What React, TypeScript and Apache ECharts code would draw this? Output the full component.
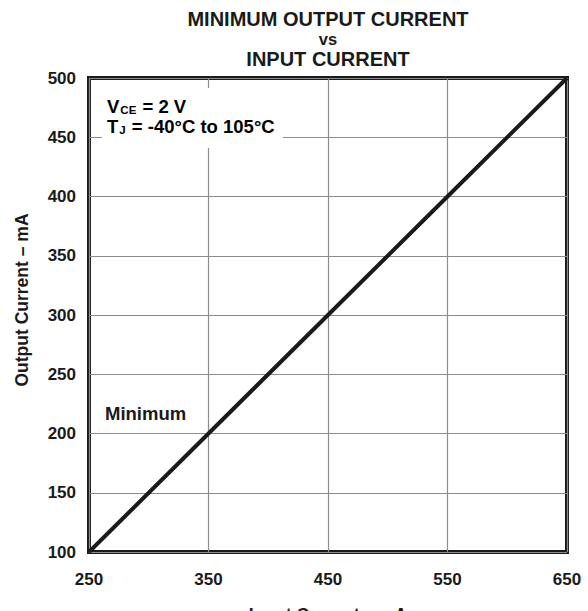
import React, { useEffect, useRef } from "react";
import * as echarts from "echarts";

const inputCurrent = [250, 350, 450, 550, 650];
const outputCurrent = [100, 200, 300, 400, 500];
const xTicks = { min: 250, max: 650, interval: 100 };
const yTicks = { min: 100, max: 500, interval: 50 };
const titleLines = ["MINIMUM OUTPUT CURRENT", "vs", "INPUT CURRENT"];
const conditionLine1 = ["V", "CE", " = 2 V"];
const conditionLine2 = ["T", "J", " = -40°C to 105°C"];
const curveLabel = "Minimum";

const FONT = "Liberation Sans, Arial, Helvetica, sans-serif";
const INK = "#1a1a1a";

export default function App() {
  const ref = useRef<HTMLDivElement>(null);
  useEffect(() => {
    document.body.style.margin = "0";
    if (!ref.current) return;
    const chart = echarts.init(ref.current, null, { renderer: "svg" });
    const rich = {
      m: { fontSize: 18.5, fontWeight: "bold", fontFamily: FONT, color: INK, lineHeight: 20, verticalAlign: "bottom" },
      s: { fontSize: 11.5, fontWeight: "bold", fontFamily: FONT, color: INK, lineHeight: 20, verticalAlign: "bottom", padding: [0, 1, 0, 1] },
    };
    const titleStyle = (size: number) => ({
      fontSize: size,
      lineHeight: size,
      fontWeight: "bold",
      fontFamily: FONT,
      color: INK,
    });
    chart.setOption({
      animation: false,
      backgroundColor: "#fff",
      title: [
        { text: titleLines[0], left: 328, top: 9, textAlign: "center", padding: 0, textStyle: titleStyle(20) },
        { text: titleLines[1], left: 328, top: 30.5, textAlign: "center", padding: 0, textStyle: titleStyle(16.5) },
        { text: titleLines[2], left: 328, top: 48.5, textAlign: "center", padding: 0, textStyle: titleStyle(20) },
      ],
      grid: {
        left: 89,
        right: 21,
        top: 78,
        bottom: 59,
        outerBoundsMode: "none",
        containLabel: false,
        show: true,
        borderColor: INK,
        borderWidth: 4,
        backgroundColor: "transparent",
      },
      xAxis: {
        type: "value",
        min: xTicks.min,
        max: xTicks.max,
        interval: xTicks.interval,
        name: "Input Current – mA",
        nameLocation: "middle",
        nameGap: 54,
        nameTextStyle: { fontSize: 17.5, fontWeight: "bold", fontFamily: FONT, color: INK },
        axisLine: { show: false },
        axisTick: { show: false },
        axisLabel: { margin: 19, fontSize: 17, fontWeight: "bold", fontFamily: FONT, color: INK },
        splitLine: { show: true, lineStyle: { color: "#8c8c8c", width: 1.2 } },
      },
      yAxis: {
        type: "value",
        min: yTicks.min,
        max: yTicks.max,
        interval: yTicks.interval,
        name: "Output Current – mA",
        nameLocation: "middle",
        nameGap: 58,
        nameRotate: 90,
        nameTextStyle: { fontSize: 17.5, fontWeight: "bold", fontFamily: FONT, color: INK, padding: [0, 0, 0, 30] },
        axisLine: { show: false },
        axisTick: { show: false },
        axisLabel: { margin: 13, fontSize: 17, fontWeight: "bold", fontFamily: FONT, color: INK },
        splitLine: { show: true, lineStyle: { color: "#8c8c8c", width: 1.2 } },
      },
      series: [
        {
          type: "line",
          data: inputCurrent.map((x, i) => [x, outputCurrent[i]]),
          symbol: "none",
          lineStyle: { color: INK, width: 4 },
          clip: false,
          z: 3,
        },
      ],
      graphic: [
        {
          type: "rect",
          shape: { x: 102, y: 88, width: 181, height: 60 },
          style: { fill: "#fff" },
          z: 10,
        },
        {
          type: "text",
          x: 107,
          y: 96,
          z: 11,
          style: {
            text: `{m|${conditionLine1[0]}}{s|${conditionLine1[1]}}{m|${conditionLine1[2]}}`,
            rich,
          },
        },
        {
          type: "text",
          x: 107,
          y: 116,
          z: 11,
          style: {
            text: `{m|${conditionLine2[0]}}{s|${conditionLine2[1]}}{m|${conditionLine2[2]}}`,
            rich,
          },
        },
        {
          type: "text",
          x: 105,
          y: 413,
          z: 11,
          style: {
            text: curveLabel,
            fontSize: 18.5,
            fontWeight: "bold",
            fontFamily: FONT,
            fill: INK,
            verticalAlign: "middle",
          },
        },
      ],
    });
    return () => chart.dispose();
  }, []);
  return <div ref={ref} style={{ width: 588, height: 611 }} />;
}
